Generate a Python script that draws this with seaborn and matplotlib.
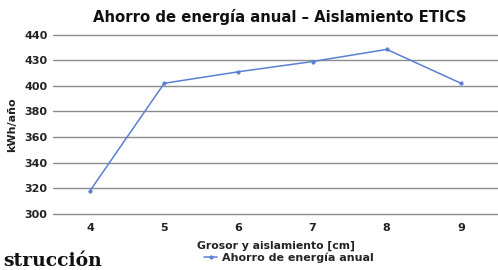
import pandas as pd
import seaborn as sns
import matplotlib.pyplot as plt

sns.set_style("white")
plt.rcParams['font.family'] = ['DejaVu Sans']

grosor = [4, 5, 6, 7, 8, 9]
ahorro = [318, 402, 411, 419, 428.5, 402]
yticks = [300, 320, 340, 360, 380, 400, 420, 440]
ytick_labels = ['300', '320', '340', '360', '380', '400', '430', '440']

df = pd.DataFrame({'Grosor': grosor, 'Ahorro': ahorro})

fig = plt.figure(figsize=(4.98, 2.70), dpi=100)
ax = fig.add_axes([0.1064, 0.2085, 0.8936, 0.663])

sns.lineplot(data=df, x='Grosor', y='Ahorro', ax=ax, color='#5b7fd2',
             linewidth=1.1, marker='o', markersize=3, markeredgewidth=0,
             label='Ahorro de energía anual', legend=False)

ax.set_xlim(3.5, 9.5)
ax.set_ylim(300, 440)
ax.set_yticks(yticks)
ax.set_yticklabels(ytick_labels)
ax.set_xticks(grosor)
ax.grid(axis='y', color='#8c8c8c', linewidth=1.0)
ax.grid(axis='x', visible=False)
for gl in ax.get_ygridlines():
    gl.set_clip_on(False)
for s in ax.spines.values():
    s.set_visible(False)
ax.tick_params(axis='both', length=0, labelsize=8)
ax.tick_params(axis='y', pad=4)
ax.tick_params(axis='x', pad=7)
for t in ax.get_xticklabels() + ax.get_yticklabels():
    t.set_fontweight('bold')
    t.set_color('#222222')

ax.set_xlabel('Grosor y aislamiento [cm]', fontsize=7.8, fontweight='bold',
              color='#222222', labelpad=5)
ax.set_ylabel('kWh/año', fontsize=8, fontweight='bold', color='#222222')
ax.yaxis.set_label_coords(-0.08, 0.5)

fig.text(0.562, 0.937, 'Ahorro de energía anual – Aislamiento ETICS',
         ha='center', va='center', fontsize=10.7, fontweight='bold', color='#111111')

handles, labels = ax.get_legend_handles_labels()
fig.legend(handles, labels, loc='center', bbox_to_anchor=(0.58, 1 - 258 / 270),
           frameon=False, handlelength=1.2, handletextpad=0.4,
           prop={'size': 8, 'weight': 'bold'})

fig.text(0.006, 0.015, 'strucción', ha='left', va='baseline', fontsize=13.5,
         fontweight='bold', family='DejaVu Serif', color='#111111')

fig.savefig('out.png', dpi=100)
